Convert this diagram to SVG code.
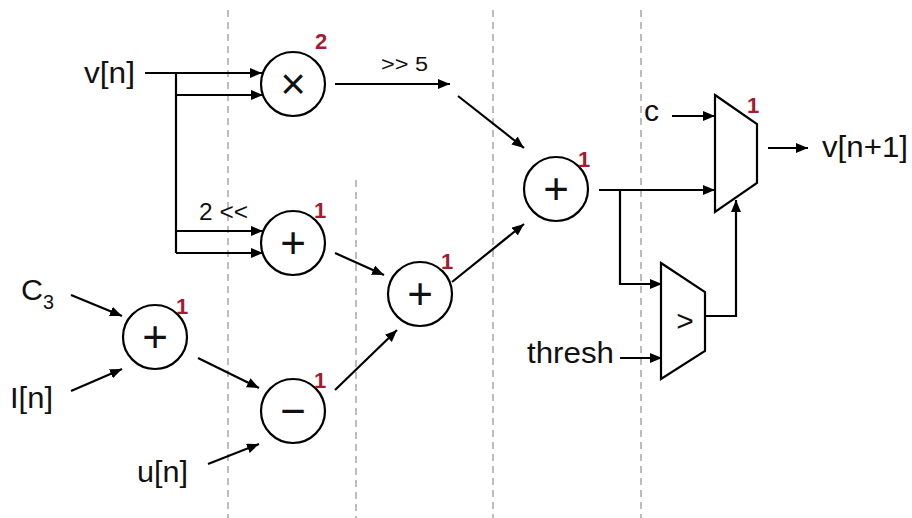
<svg xmlns="http://www.w3.org/2000/svg" width="912" height="518" viewBox="0 0 912 518">
<defs>
<marker id="ah" markerUnits="userSpaceOnUse" markerWidth="13" markerHeight="11" refX="12" refY="5" orient="auto">
<path d="M0,0 L12,5 L0,10 z" fill="#000"/>
</marker>
<style>
.lbl{font-family:"Liberation Sans",Arial,sans-serif;font-size:30px;fill:#111}
.sm{font-family:"Liberation Sans",Arial,sans-serif;font-size:20px;fill:#111}
.lat{font-family:"Liberation Sans",Arial,sans-serif;font-size:22px;font-weight:bold;fill:#a51c30}
.op{font-family:"Liberation Sans",Arial,sans-serif;font-size:44px;fill:#111;text-anchor:middle}
.node{fill:#fff;stroke:#000;stroke-width:2.2}
.w{fill:none;stroke:#000;stroke-width:2.2}
.a{fill:none;stroke:#000;stroke-width:2.2;marker-end:url(#ah)}
.dash{stroke:#bdbdbd;stroke-width:2;stroke-dasharray:7 5}
</style>
</defs>
<rect width="912" height="518" fill="#fff"/>
<g id="stages">
<line class="dash" x1="228" y1="10" x2="228" y2="518"/>
<line class="dash" x1="356" y1="180" x2="356" y2="518"/>
<line class="dash" x1="493" y1="10" x2="493" y2="518"/>
<line class="dash" x1="641" y1="10" x2="641" y2="518"/>
</g>
<g id="connectors">
<path class="w" d="M145,73 H176 V253"/>
<path class="a" d="M176,73 H262"/>
<path class="a" d="M176,95 H263"/>
<path class="a" d="M176,231 H263"/>
<path class="a" d="M176,253 H263"/>
<path class="a" d="M335,84 H450"/>
<path class="a" d="M458,96 L524,148"/>
<path class="a" d="M335,253 L384,275"/>
<path class="a" d="M71,295 L122,316"/>
<path class="a" d="M71,391 L122,369"/>
<path class="a" d="M198,358 L259,388"/>
<path class="a" d="M208,464 L259,444"/>
<path class="a" d="M335,390 L397,330"/>
<path class="a" d="M452,282 L524,224"/>
<path class="a" d="M599,190 H715"/>
<path class="a" d="M620,190 V284 H662"/>
<path class="a" d="M620,358 H662"/>
<path class="a" d="M672,116 H715"/>
<path class="a" d="M705,316 H736 V200"/>
<path class="a" d="M768,148 H808"/>
</g>
<g id="in-v">
<text class="lbl" x="84" y="83" textLength="51" lengthAdjust="spacingAndGlyphs">v[n]</text>
</g>
<g id="in-c3">
<text class="lbl" x="21" y="300" textLength="22" lengthAdjust="spacingAndGlyphs">C</text>
<text class="sm" x="43" y="309" textLength="11" lengthAdjust="spacingAndGlyphs">3</text>
</g>
<g id="in-i">
<text class="lbl" x="10" y="408" textLength="43" lengthAdjust="spacingAndGlyphs">I[n]</text>
</g>
<g id="in-u">
<text class="lbl" x="137" y="482" textLength="51" lengthAdjust="spacingAndGlyphs">u[n]</text>
</g>
<g id="in-thresh">
<text class="lbl" x="527" y="363" textLength="87" lengthAdjust="spacingAndGlyphs">thresh</text>
</g>
<g id="in-c">
<text class="lbl" x="644" y="121" textLength="15" lengthAdjust="spacingAndGlyphs">c</text>
</g>
<g id="out-v">
<text class="lbl" x="822" y="157" textLength="86" lengthAdjust="spacingAndGlyphs">v[n+1]</text>
</g>
<g id="shr-label">
<text class="sm" x="381" y="71" textLength="47" lengthAdjust="spacingAndGlyphs">&gt;&gt; 5</text>
</g>
<g id="shl-label">
<text class="sm" x="199" y="220" textLength="49" lengthAdjust="spacingAndGlyphs" style="font-size:24px">2 &lt;&lt;</text>
</g>
<g id="mul">
<circle class="node" cx="293" cy="84" r="32"/>
<text class="op" x="293" y="99">×</text>
<text class="lat" x="315" y="49">2</text>
</g>
<g id="add-shift">
<circle class="node" cx="293" cy="243" r="32"/>
<text class="op" x="293" y="258">+</text>
<text class="lat" x="314" y="218">1</text>
</g>
<g id="add-c3">
<circle class="node" cx="155" cy="337" r="32"/>
<text class="op" x="155" y="352">+</text>
<text class="lat" x="176" y="314">1</text>
</g>
<g id="sub-u">
<circle class="node" cx="293" cy="411" r="32"/>
<text class="op" x="293" y="426">−</text>
<text class="lat" x="314" y="388">1</text>
</g>
<g id="add-mid">
<circle class="node" cx="420" cy="294" r="32"/>
<text class="op" x="420" y="309">+</text>
<text class="lat" x="441" y="269">1</text>
</g>
<g id="add-out">
<circle class="node" cx="556" cy="189" r="32"/>
<text class="op" x="556" y="204">+</text>
<text class="lat" x="578" y="167">1</text>
</g>
<g id="cmp">
<polygon class="node" points="661,263 705,292 705,351 661,379"/>
<text class="lbl" x="685" y="331" text-anchor="middle" style="font-size:30px">&gt;</text>
</g>
<g id="mux">
<polygon class="node" points="715,95 757,124 757,183 715,212"/>
<text class="lat" x="747" y="113">1</text>
</g>
</svg>
